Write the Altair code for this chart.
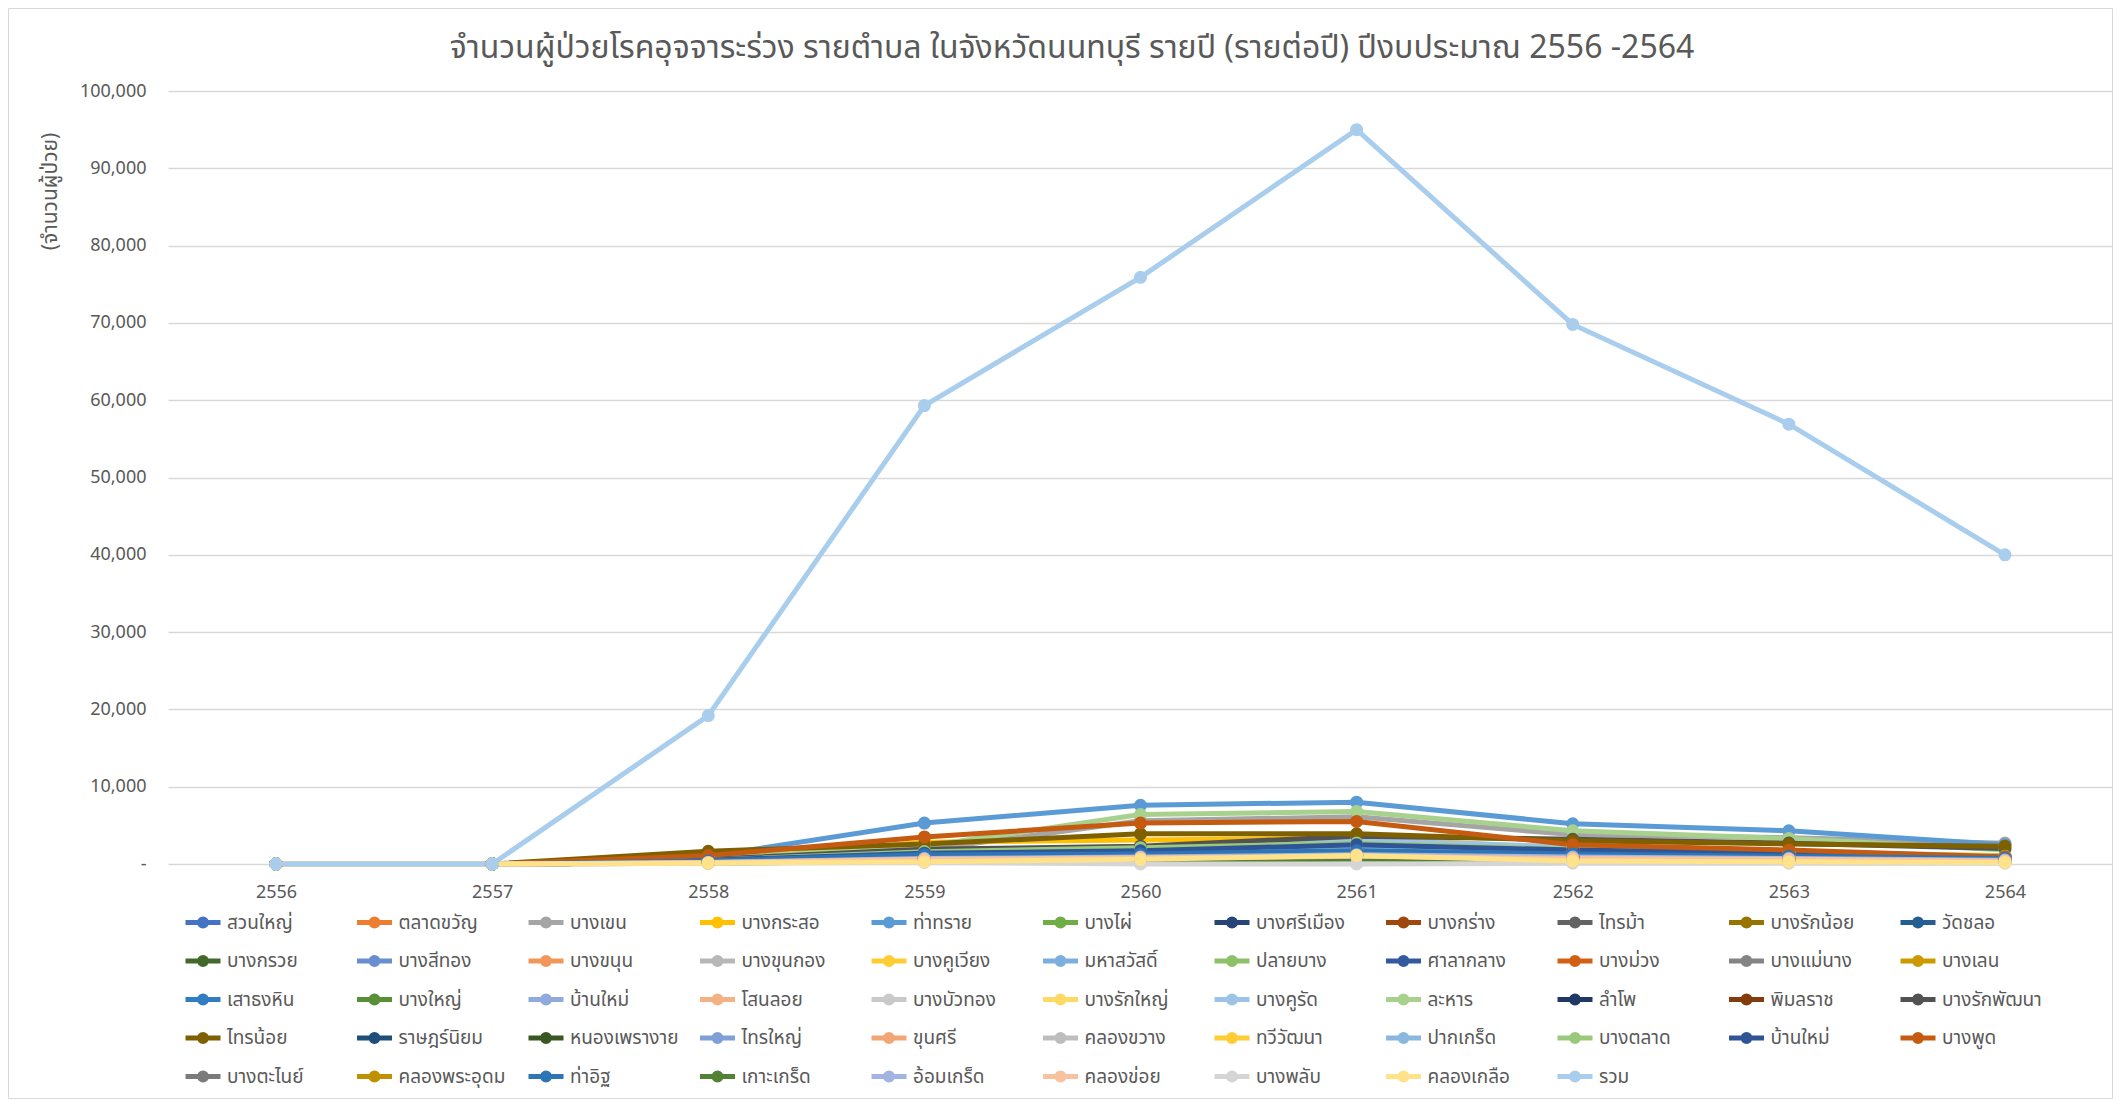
import altair as alt
import pandas as pd

title_text = "จำนวนผู้ป่วยโรคอุจจาระร่วง รายตำบล ในจังหวัดนนทบุรี รายปี (รายต่อปี) ปีงบประมาณ 2556 -2564"
y_title = "(จำนวนผู้ป่วย)"

years = ["2556", "2557", "2558", "2559", "2560", "2561", "2562", "2563", "2564"]

names = [
    "สวนใหญ่", "ตลาดขวัญ", "บางเขน", "บางกระสอ", "ท่าทราย", "บางไผ่", "บางศรีเมือง", "บางกร่าง", "ไทรม้า", "บางรักน้อย", "วัดชลอ",
    "บางกรวย", "บางสีทอง", "บางขนุน", "บางขุนกอง", "บางคูเวียง", "มหาสวัสดิ์", "ปลายบาง", "ศาลากลาง", "บางม่วง", "บางแม่นาง", "บางเลน",
    "เสาธงหิน", "บางใหญ่", "บ้านใหม่", "โสนลอย", "บางบัวทอง", "บางรักใหญ่", "บางคูรัด", "ละหาร", "ลำโพ", "พิมลราช", "บางรักพัฒนา",
    "ไทรน้อย", "ราษฎร์นิยม", "หนองเพรางาย", "ไทรใหญ่", "ขุนศรี", "คลองขวาง", "ทวีวัฒนา", "ปากเกร็ด", "บางตลาด", "บ้านใหม่#2", "บางพูด",
    "บางตะไนย์", "คลองพระอุดม", "ท่าอิฐ", "เกาะเกร็ด", "อ้อมเกร็ด", "คลองข่อย", "บางพลับ", "คลองเกลือ",
]

colors = [
    "#4472C4", "#ED7D31", "#A5A5A5", "#FFC000", "#5B9BD5", "#70AD47", "#264478", "#9E480E", "#636363", "#997300", "#255E91",
    "#43682B", "#698ED0", "#F1975A", "#B7B7B7", "#FFCD33", "#7CAFDD", "#8CC168", "#335AA1", "#D26012", "#848484", "#CC9A00",
    "#327DC2", "#5A8F3A", "#8FAADC", "#F4B183", "#C9C9C9", "#FFD966", "#9DC3E6", "#A9D18E", "#203864", "#843C0C", "#525252",
    "#7F6000", "#1F4E79", "#385723", "#7F9FD7", "#F3A675", "#BDBDBD", "#FFCC33", "#8AB7E0", "#9BC97B", "#2F5597", "#C55A11",
    "#7B7B7B", "#BF9000", "#2E75B6", "#548235", "#A2B4E2", "#F8C1A0", "#D5D5D5", "#FFE28A",
]

total_name = "รวม"
total_color = "#A9CDEC"

# cases per sub-district (same order as names)
cases_2556 = [0] * 52
cases_2557 = [0] * 52
cases_2558 = [400, 300, 500, 500, 1000, 300, 400, 400, 300, 300, 300,
              200, 200, 200, 200, 200, 300, 300, 200, 300, 300, 300,
              300, 300, 200, 300, 300, 300, 400, 700, 200, 400, 600,
              1650, 200, 200, 200, 200, 200, 300, 400, 500, 500, 1100,
              200, 200, 400, 100, 200, 200, 100, 100]
cases_2559 = [1300, 1000, 1800, 2800, 5300, 1100, 1200, 1400, 1000, 900, 900,
              800, 700, 600, 700, 600, 1000, 1100, 700, 1000, 1000, 900,
              1200, 900, 700, 900, 900, 1000, 1500, 2300, 700, 1200, 1900,
              2600, 600, 700, 700, 600, 500, 900, 1300, 1600, 1400, 3500,
              700, 600, 1200, 400, 700, 600, 200, 300]
cases_2560 = [1700, 1300, 5600, 3100, 7600, 1400, 1500, 1800, 1300, 1200, 1200,
              1000, 900, 800, 900, 800, 1300, 1400, 900, 1300, 1400, 1200,
              1500, 1200, 900, 1200, 1200, 1300, 2000, 6400, 900, 1700, 2300,
              3900, 800, 900, 900, 800, 700, 1200, 1800, 2100, 1700, 5300,
              900, 800, 1300, 500, 900, 800, 0, 600]
cases_2561 = [2100, 1600, 6100, 3400, 8000, 1800, 1900, 2300, 1700, 1600, 1500,
              1400, 1200, 1100, 1200, 1000, 1700, 1800, 1200, 1700, 1800, 1600,
              2000, 1600, 1200, 1500, 1500, 1700, 3100, 6800, 1200, 2200, 3600,
              3900, 1000, 1200, 1100, 1000, 900, 1500, 2300, 2700, 2500, 5500,
              1100, 1000, 1700, 600, 1200, 1000, 0, 1100]
cases_2562 = [1500, 1200, 3800, 2000, 5200, 1300, 1400, 1600, 1300, 1200, 1100,
              1000, 900, 800, 900, 700, 1200, 1300, 900, 1200, 1300, 1200,
              1400, 1100, 900, 1100, 1100, 1200, 2200, 4300, 900, 1600, 3200,
              3000, 700, 900, 800, 700, 700, 1100, 1700, 1900, 1800, 2500,
              800, 700, 1300, 500, 900, 700, 100, 400]
cases_2563 = [1200, 900, 3400, 1500, 4300, 1000, 1100, 1300, 1000, 900, 900,
              800, 700, 600, 700, 600, 900, 1000, 700, 900, 1000, 900,
              1100, 900, 700, 900, 900, 1000, 1600, 3300, 700, 1200, 2700,
              2600, 600, 700, 600, 600, 500, 900, 1300, 1500, 1400, 1800,
              600, 600, 1000, 400, 700, 600, 100, 300]
cases_2564 = [700, 600, 2700, 1100, 2500, 700, 800, 900, 700, 600, 600,
              500, 500, 400, 500, 400, 600, 700, 500, 600, 700, 600,
              700, 600, 500, 600, 600, 700, 1000, 1800, 400, 800, 2000,
              2300, 400, 500, 400, 400, 300, 600, 900, 1000, 900, 900,
              400, 400, 700, 300, 500, 400, 100, 200]

total = [0, 0, 19200, 59300, 75900, 95000, 69800, 56900, 40000]

by_year = [cases_2556, cases_2557, cases_2558, cases_2559, cases_2560,
           cases_2561, cases_2562, cases_2563, cases_2564]

rows = []
for i, n in enumerate(names):
    for j, y in enumerate(years):
        rows.append({"name": n, "year": y, "value": by_year[j][i]})
for j, y in enumerate(years):
    rows.append({"name": total_name, "year": y, "value": total[j]})
df = pd.DataFrame(rows)

domain = names + [total_name]
rng = colors + [total_color]

FONT = "Noto Sans Thai, Tahoma, Noto Sans, sans-serif"
GREY = "#595959"

legend_symbol = "M-1,0 L6,0 M3.2,0 A0.7,0.7 0 1,1 1.8,0 A0.7,0.7 0 1,1 3.2,0"

lines = alt.Chart(df).mark_line(
    strokeWidth=5,
    point=alt.OverlayMarkDef(filled=True, size=170, opacity=1),
).encode(
    x=alt.X("year:O", sort=years,
            scale=alt.Scale(type="point", padding=0.5),
            axis=alt.Axis(title=None, labelAngle=0, ticks=False, domain=False,
                          labelPadding=19, labelFontSize=18, labelColor=GREY,
                          grid=False)),
    y=alt.Y("value:Q",
            scale=alt.Scale(domain=[0, 100000], nice=False),
            axis=alt.Axis(values=list(range(0, 100001, 10000)),
                          labelExpr="datum.value == 0 ? '-\u00a0\u00a0\u00a0' : format(datum.value, ',')",
                          title=y_title, ticks=False, domain=False,
                          gridColor="#D9D9D9", gridWidth=1.3, labelPadding=22,
                          labelFontSize=18, labelColor=GREY,
                          titleX=-118, titleY=100, titleAngle=270,
                          titleAlign="center", titleBaseline="middle",
                          titleFontWeight="normal", titleFontSize=21,
                          titleColor=GREY)),
    color=alt.Color("name:N",
                    scale=alt.Scale(domain=domain, range=rng),
                    legend=alt.Legend(title=None, orient="none",
                                      legendX=13, legendY=822,
                                      direction="horizontal", columns=11,
                                      gridAlign="all", columnPadding=10.5,
                                      rowPadding=11.5, symbolLimit=100,
                                      symbolType=legend_symbol, symbolSize=100,
                                      symbolStrokeWidth=5, labelOffset=27,
                                      labelFontSize=19, labelColor=GREY,
                                      labelLimit=200,
                                      labelExpr="replace(datum.label, '#2', '')")),
)

title_mark = alt.Chart(alt.Data(values=[{"t": title_text}])).mark_text(
    fontSize=32, color=GREY, align="center", baseline="middle"
).encode(
    text="t:N",
    x=alt.value(904),
    y=alt.value(-43),
)

border = alt.Chart(alt.Data(values=[{"a": 1}])).mark_rect(
    fillOpacity=0, stroke="#D9D9D9", strokeWidth=1
).encode(
    x=alt.value(-159.5), x2=alt.value(1944.5),
    y=alt.value(-82.5), y2=alt.value(1007.5),
)

chart = alt.layer(border, title_mark, lines).properties(
    width=1945,
    height=773,
    padding={"left": 160, "top": 83, "right": 0, "bottom": 235},
    autosize=alt.AutoSizeParams(type="none"),
).configure(font=FONT).configure_view(stroke=None)

chart.save("out.html", embed_options={"renderer": "svg", "actions": False})
